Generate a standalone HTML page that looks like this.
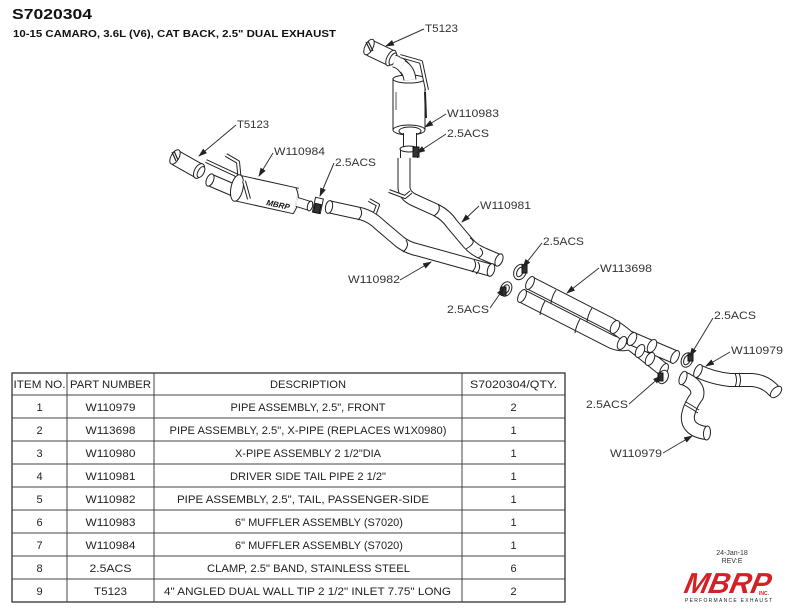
<!DOCTYPE html>
<html>
<head>
<meta charset="utf-8">
<style>
html,body{margin:0;padding:0;background:#fff;}
svg{display:block;}
.o{fill:none;stroke:#222;stroke-linecap:butt;stroke-linejoin:round;}
.i{fill:none;stroke:#fff;stroke-linecap:butt;stroke-linejoin:round;}
.e{fill:#fff;stroke:#222;stroke-width:1;}
.d{fill:#333;stroke:#111;stroke-width:1;}
.w{fill:none;stroke:#222;stroke-width:1;}
.lab{font-family:"Liberation Sans",sans-serif;font-size:11px;fill:#333;}
.ld{stroke:#333;stroke-width:1;fill:none;}
.tt{font-family:"Liberation Sans",sans-serif;font-size:11px;fill:#222;text-anchor:middle;}
.gl{stroke:#444;stroke-width:1;}
</style>
</head>
<body>
<svg width="792" height="612" viewBox="0 0 792 612" xmlns="http://www.w3.org/2000/svg">
<defs>
<marker id="ar" markerWidth="9" markerHeight="6" refX="8" refY="3" orient="auto" markerUnits="userSpaceOnUse">
<path d="M0,0 L9,3 L0,6 Z" fill="#222"/>
</marker>
</defs>

<!-- Header -->
<text x="12" y="19" font-family="Liberation Sans,sans-serif" font-weight="bold" font-size="15" fill="#111" textLength="80" lengthAdjust="spacingAndGlyphs">S7020304</text>
<text x="13" y="37" font-family="Liberation Sans,sans-serif" font-weight="bold" font-size="10" fill="#111" textLength="323" lengthAdjust="spacingAndGlyphs">10-15 CAMARO, 3.6L (V6), CAT BACK, 2.5" DUAL EXHAUST</text>

<!-- ===== Upper muffler assembly (W110983) ===== -->
<path class="o" stroke-width="13" d="M404 158 L404 188 Q405 196 414 200 L436 210 Q446 215 452 224 L468 243 Q474 250 484 254 L498 260"/>
<path class="i" stroke-width="11" d="M404 158 L404 188 Q405 196 414 200 L436 210 Q446 215 452 224 L468 243 Q474 250 484 254 L498 260"/>
<path class="w" d="M438 204 Q442 210 434 216"/>
<path class="w" d="M470 238 Q478 242 466 249"/>
<path class="w" d="M480 248 Q486 254 478 258"/>
<ellipse class="e" cx="499" cy="260" rx="3.5" ry="6.5" transform="rotate(23 499 260)"/>
<path class="o" stroke-width="4" d="M389 191 L405 197 L411 192"/>
<path class="i" stroke-width="2" d="M389 191 L405 197 L411 192"/>

<path class="o" stroke-width="17" d="M370 48 L391 58"/>
<path class="i" stroke-width="15" d="M370 48 L391 58"/>
<ellipse class="e" cx="369" cy="47" rx="4" ry="8.5" transform="rotate(27 369 47)"/>
<path d="M366 42 L371 52 M368 41 L373 51" stroke="#222" stroke-width="1.2"/>
<ellipse class="e" cx="391" cy="58" rx="4" ry="8.5" transform="rotate(27 391 58)"/>
<ellipse class="e" cx="393" cy="59" rx="3" ry="6.5" transform="rotate(27 393 59)"/>
<path class="o" stroke-width="13" d="M394 61 Q406 64 410 80"/>
<path class="i" stroke-width="11" d="M394 61 Q406 64 410 80"/>
<path class="o" stroke-width="33" d="M409 78 L409 130"/>
<path class="i" stroke-width="31" d="M409 78 L409 130"/>
<ellipse class="e" cx="409" cy="79" rx="16" ry="4"/>
<path class="o" stroke-width="13" d="M402 66 Q409 70 410 80"/>
<path class="i" stroke-width="11" d="M402 66 Q409 70 410 80"/>
<ellipse class="e" cx="409" cy="130" rx="16" ry="5"/>
<ellipse class="e" cx="410" cy="131" rx="11" ry="4"/>
<path d="M425 92 L426 118" stroke="#222" stroke-width="2"/>
<path d="M396 92 L396 110" stroke="#555" stroke-width="1"/>
<path class="o" stroke-width="4" d="M400 56 L421 62 L427 90"/>
<path class="i" stroke-width="2" d="M400 56 L421 62 L427 90"/>
<path class="o" stroke-width="14" d="M410 133 L410 150"/>
<path class="i" stroke-width="12" d="M410 133 L410 150"/>
<path class="o" stroke-width="18" d="M409 149 L409 158"/>
<path class="i" stroke-width="16" d="M409 149 L409 158"/>
<ellipse class="e" cx="409" cy="149" rx="9" ry="3"/>
<rect x="413" y="147" width="6" height="10" class="d"/>

<!-- ===== Left muffler assembly (W110984) ===== -->
<path class="o" stroke-width="16" d="M176 158 L199 171"/>
<path class="i" stroke-width="14" d="M176 158 L199 171"/>
<ellipse class="e" cx="175" cy="157" rx="4" ry="8" transform="rotate(29 175 157)"/>
<path d="M172 152 L176 161 M174 151 L178 160" stroke="#222" stroke-width="1.2"/>
<ellipse class="e" cx="199" cy="171" rx="4.5" ry="8" transform="rotate(29 199 171)"/>
<ellipse class="e" cx="201" cy="172" rx="3" ry="6" transform="rotate(29 201 172)"/>
<path class="o" stroke-width="13" d="M210 180 L238 192"/>
<path class="i" stroke-width="11" d="M210 180 L238 192"/>
<ellipse class="e" cx="210" cy="180" rx="3.5" ry="6.5" transform="rotate(23 210 180)"/>
<path class="o" stroke-width="4" d="M206 161 L236 175 L243 196"/>
<path class="i" stroke-width="2" d="M206 161 L236 175 L243 196"/>
<path class="o" stroke-width="4" d="M226 155 L238 162 L240 182"/>
<path class="i" stroke-width="2" d="M226 155 L238 162 L240 182"/>
<path class="o" stroke-width="27" d="M237 188 L296 201"/>
<path class="i" stroke-width="25" d="M237 188 L296 201"/>
<ellipse class="e" cx="237" cy="188" rx="6" ry="13.5" transform="rotate(12 237 188)"/>
<path d="M296 188 Q302 201 293 214" class="w"/>
<text x="266" y="205" font-family="Liberation Sans,sans-serif" font-weight="bold" font-style="italic" font-size="8" fill="#111" transform="rotate(12 266 205)">MBRP</text>
<path class="o" stroke-width="4" d="M244 181 L249 199"/>
<path class="i" stroke-width="2" d="M244 181 L249 199"/>
<path class="o" stroke-width="10" d="M297 202 L310 206"/>
<path class="i" stroke-width="8" d="M297 202 L310 206"/>
<ellipse class="e" cx="310" cy="206" rx="2.5" ry="5" transform="rotate(15 310 206)"/>
<rect x="314" y="198" width="8" height="15" class="e" transform="rotate(12 318 205)"/>
<rect x="315" y="204" width="6" height="9" class="d" transform="rotate(12 318 205)"/>

<!-- passenger tail pipe W110982 -->
<path class="o" stroke-width="13" d="M330 207 L362 214 Q372 217 380 225 L400 242 Q408 248 418 250 L490 270"/>
<path class="i" stroke-width="11" d="M330 207 L362 214 Q372 217 380 225 L400 242 Q408 248 418 250 L490 270"/>
<ellipse class="e" cx="329" cy="207" rx="3.5" ry="6.5" transform="rotate(12 329 207)"/>
<path class="w" d="M360 208 Q364 214 358 220"/>
<path class="w" d="M406 240 Q410 246 403 252"/>
<path class="w" d="M474 260 Q478 266 472 272"/>
<path class="w" d="M478 262 Q482 268 476 274"/>
<ellipse class="e" cx="491" cy="270" rx="3.5" ry="6.5" transform="rotate(16 491 270)"/>
<path class="o" stroke-width="4" d="M369 200 L378 205 L375 213"/>
<path class="i" stroke-width="2" d="M369 200 L378 205 L375 213"/>

<!-- clamps near X-pipe -->
<ellipse class="e" cx="520" cy="272" rx="6" ry="8" transform="rotate(25 520 272)"/>
<ellipse class="e" cx="520" cy="272" rx="3" ry="5" transform="rotate(25 520 272)"/>
<rect x="522" y="265" width="5" height="8" class="d"/>
<ellipse class="e" cx="506" cy="289" rx="5.5" ry="7.5" transform="rotate(25 506 289)"/>
<ellipse class="e" cx="506" cy="289" rx="3" ry="4.5" transform="rotate(25 506 289)"/>
<rect x="501" y="287" width="5" height="8" class="d"/>

<!-- X-pipe W113698 -->
<path class="o" stroke-width="14" d="M522 296 L612 342 Q622 346 630 343 L664 370"/>
<path class="i" stroke-width="12" d="M522 296 L612 342 Q622 346 630 343 L664 370"/>
<path class="o" stroke-width="14" d="M530 283 L610 324 Q620 330 628 337 L675 357"/>
<path class="i" stroke-width="12" d="M530 283 L610 324 Q620 330 628 337 L675 357"/>
<ellipse class="e" cx="530" cy="283" rx="3.5" ry="7" transform="rotate(27 530 283)"/>
<ellipse class="e" cx="522" cy="296" rx="3.5" ry="7" transform="rotate(27 522 296)"/>
<path class="w" d="M556 290 Q552 296 551 303"/>
<path class="w" d="M592 308 Q588 314 587 322"/>
<path class="w" d="M545 301 Q541 308 540 315"/>
<path class="w" d="M580 319 Q576 326 575 333"/>
<ellipse class="e" cx="615" cy="327" rx="4" ry="7" transform="rotate(27 615 327)"/>
<ellipse class="e" cx="622" cy="343" rx="4" ry="7" transform="rotate(27 622 343)"/>
<ellipse class="e" cx="632" cy="339" rx="4" ry="7" transform="rotate(27 632 339)"/>
<ellipse class="e" cx="640" cy="351" rx="4" ry="7" transform="rotate(27 640 351)"/>
<ellipse class="e" cx="652" cy="346" rx="4" ry="7" transform="rotate(27 652 346)"/>
<ellipse class="e" cx="650" cy="359" rx="4" ry="7" transform="rotate(27 650 359)"/>
<ellipse class="e" cx="675" cy="357" rx="3.5" ry="7" transform="rotate(27 675 357)"/>
<ellipse class="e" cx="664" cy="370" rx="3.5" ry="7" transform="rotate(27 664 370)"/>
<ellipse class="e" cx="687" cy="360" rx="5.5" ry="7.5" transform="rotate(25 687 360)"/>
<ellipse class="e" cx="687" cy="360" rx="3" ry="5" transform="rotate(25 687 360)"/>
<rect x="688" y="354" width="5" height="7" class="d"/>
<ellipse class="e" cx="663" cy="377" rx="5" ry="7" transform="rotate(25 663 377)"/>
<rect x="658" y="373" width="5" height="8" class="d"/>

<!-- front pipes W110979 -->
<path class="o" stroke-width="14" d="M698 371 Q712 378 730 380 L752 380 Q766 381 775 392"/>
<path class="i" stroke-width="12" d="M698 371 Q712 378 730 380 L752 380 Q766 381 775 392"/>
<ellipse class="e" cx="698" cy="371" rx="3.5" ry="7" transform="rotate(25 698 371)"/>
<ellipse class="e" cx="776" cy="392" rx="4" ry="7" transform="rotate(45 776 392)"/>
<path class="w" d="M735 373 Q738 380 735 387"/>
<path class="w" d="M739 373 Q742 380 739 387"/>
<path class="o" stroke-width="14" d="M683 378 Q700 385 697 396 Q690 405 688 415 Q686 430 706 433"/>
<path class="i" stroke-width="12" d="M683 378 Q700 385 697 396 Q690 405 688 415 Q686 430 706 433"/>
<ellipse class="e" cx="683" cy="378" rx="3.5" ry="7" transform="rotate(20 683 378)"/>
<ellipse class="e" cx="707" cy="433" rx="3.5" ry="7" transform="rotate(5 707 433)"/>
<path class="w" d="M686 402 Q693 406 699 410"/>
<path class="w" d="M685 405 Q692 409 698 413"/>

<!-- ===== Labels & leaders ===== -->
<g>
<line class="ld" x1="424" y1="29" x2="386" y2="46" marker-end="url(#ar)"/>
<text class="lab" x="425" y="32" textLength="33" lengthAdjust="spacingAndGlyphs">T5123</text>
<line class="ld" x1="446" y1="114" x2="425" y2="127" marker-end="url(#ar)"/>
<text class="lab" x="447" y="117" textLength="52" lengthAdjust="spacingAndGlyphs">W110983</text>
<line class="ld" x1="446" y1="134" x2="417" y2="153" marker-end="url(#ar)"/>
<text class="lab" x="447" y="137" textLength="42" lengthAdjust="spacingAndGlyphs">2.5ACS</text>
<line class="ld" x1="479" y1="206" x2="462" y2="222" marker-end="url(#ar)"/>
<text class="lab" x="480" y="209" textLength="51" lengthAdjust="spacingAndGlyphs">W110981</text>
<line class="ld" x1="400" y1="280" x2="431" y2="262" marker-end="url(#ar)"/>
<text class="lab" x="348" y="283" textLength="52" lengthAdjust="spacingAndGlyphs">W110982</text>
<line class="ld" x1="490" y1="308" x2="504" y2="288" marker-end="url(#ar)"/>
<text class="lab" x="447" y="313" textLength="42" lengthAdjust="spacingAndGlyphs">2.5ACS</text>
<line class="ld" x1="542" y1="243" x2="523" y2="267" marker-end="url(#ar)"/>
<text class="lab" x="543" y="245" textLength="41" lengthAdjust="spacingAndGlyphs">2.5ACS</text>
<line class="ld" x1="599" y1="268" x2="567" y2="293" marker-end="url(#ar)"/>
<text class="lab" x="600" y="272" textLength="52" lengthAdjust="spacingAndGlyphs">W113698</text>
<line class="ld" x1="713" y1="318" x2="690" y2="356" marker-end="url(#ar)"/>
<text class="lab" x="714" y="319" textLength="42" lengthAdjust="spacingAndGlyphs">2.5ACS</text>
<line class="ld" x1="730" y1="352" x2="706" y2="366" marker-end="url(#ar)"/>
<text class="lab" x="731" y="354" textLength="52" lengthAdjust="spacingAndGlyphs">W110979</text>
<line class="ld" x1="629" y1="404" x2="661" y2="376" marker-end="url(#ar)"/>
<text class="lab" x="586" y="408" textLength="42" lengthAdjust="spacingAndGlyphs">2.5ACS</text>
<line class="ld" x1="663" y1="453" x2="692" y2="436" marker-end="url(#ar)"/>
<text class="lab" x="610" y="457" textLength="52" lengthAdjust="spacingAndGlyphs">W110979</text>
<line class="ld" x1="236" y1="125" x2="199" y2="156" marker-end="url(#ar)"/>
<text class="lab" x="237" y="128" textLength="32" lengthAdjust="spacingAndGlyphs">T5123</text>
<line class="ld" x1="273" y1="153" x2="259" y2="176" marker-end="url(#ar)"/>
<text class="lab" x="274" y="155" textLength="51" lengthAdjust="spacingAndGlyphs">W110984</text>
<line class="ld" x1="334" y1="163" x2="320" y2="196" marker-end="url(#ar)"/>
<text class="lab" x="335" y="166" textLength="41" lengthAdjust="spacingAndGlyphs">2.5ACS</text>
</g>

<!-- ===== Table ===== -->
<g>
<rect x="12" y="373" width="553" height="229" fill="none" stroke="#333" stroke-width="1.3"/>
<line class="gl" x1="67" y1="373" x2="67" y2="602"/>
<line class="gl" x1="154" y1="373" x2="154" y2="602"/>
<line class="gl" x1="462" y1="373" x2="462" y2="602"/>
<line class="gl" x1="12" y1="395" x2="565" y2="395"/>
<line class="gl" x1="12" y1="418" x2="565" y2="418"/>
<line class="gl" x1="12" y1="441" x2="565" y2="441"/>
<line class="gl" x1="12" y1="464" x2="565" y2="464"/>
<line class="gl" x1="12" y1="487" x2="565" y2="487"/>
<line class="gl" x1="12" y1="510" x2="565" y2="510"/>
<line class="gl" x1="12" y1="533" x2="565" y2="533"/>
<line class="gl" x1="12" y1="556" x2="565" y2="556"/>
<line class="gl" x1="12" y1="579" x2="565" y2="579"/>

<text class="tt" x="39.5" y="388" textLength="52" lengthAdjust="spacingAndGlyphs">ITEM NO.</text>
<text class="tt" x="110.5" y="388" textLength="81" lengthAdjust="spacingAndGlyphs">PART NUMBER</text>
<text class="tt" x="308" y="388" textLength="76" lengthAdjust="spacingAndGlyphs">DESCRIPTION</text>
<text class="tt" x="513.5" y="388" textLength="87" lengthAdjust="spacingAndGlyphs">S7020304/QTY.</text>

<text class="tt" x="39.5" y="411">1</text>
<text class="tt" x="110.5" y="411" textLength="50" lengthAdjust="spacingAndGlyphs">W110979</text>
<text class="tt" x="308" y="411" textLength="155" lengthAdjust="spacingAndGlyphs">PIPE ASSEMBLY, 2.5", FRONT</text>
<text class="tt" x="513.5" y="411">2</text>

<text class="tt" x="39.5" y="434">2</text>
<text class="tt" x="110.5" y="434" textLength="50" lengthAdjust="spacingAndGlyphs">W113698</text>
<text class="tt" x="308" y="434" textLength="277" lengthAdjust="spacingAndGlyphs">PIPE ASSEMBLY, 2.5", X-PIPE (REPLACES W1X0980)</text>
<text class="tt" x="513.5" y="434">1</text>

<text class="tt" x="39.5" y="457">3</text>
<text class="tt" x="110.5" y="457" textLength="50" lengthAdjust="spacingAndGlyphs">W110980</text>
<text class="tt" x="308" y="457" textLength="146" lengthAdjust="spacingAndGlyphs">X-PIPE ASSEMBLY 2 1/2"DIA</text>
<text class="tt" x="513.5" y="457">1</text>

<text class="tt" x="39.5" y="480">4</text>
<text class="tt" x="110.5" y="480" textLength="50" lengthAdjust="spacingAndGlyphs">W110981</text>
<text class="tt" x="308" y="480" textLength="156" lengthAdjust="spacingAndGlyphs">DRIVER SIDE TAIL PIPE 2 1/2"</text>
<text class="tt" x="513.5" y="480">1</text>

<text class="tt" x="39.5" y="503">5</text>
<text class="tt" x="110.5" y="503" textLength="50" lengthAdjust="spacingAndGlyphs">W110982</text>
<text class="tt" x="303" y="503" textLength="252" lengthAdjust="spacingAndGlyphs">PIPE ASSEMBLY, 2.5", TAIL, PASSENGER-SIDE</text>
<text class="tt" x="513.5" y="503">1</text>

<text class="tt" x="39.5" y="526">6</text>
<text class="tt" x="110.5" y="526" textLength="50" lengthAdjust="spacingAndGlyphs">W110983</text>
<text class="tt" x="319" y="526" font-size="10">6" MUFFLER ASSEMBLY (S7020)</text>
<text class="tt" x="513.5" y="526">1</text>

<text class="tt" x="39.5" y="549">7</text>
<text class="tt" x="110.5" y="549" textLength="50" lengthAdjust="spacingAndGlyphs">W110984</text>
<text class="tt" x="319" y="549" font-size="10">6" MUFFLER ASSEMBLY (S7020)</text>
<text class="tt" x="513.5" y="549">1</text>

<text class="tt" x="39.5" y="572">8</text>
<text class="tt" x="110.5" y="572" textLength="42" lengthAdjust="spacingAndGlyphs">2.5ACS</text>
<text class="tt" x="308.5" y="572" textLength="203" lengthAdjust="spacingAndGlyphs">CLAMP, 2.5" BAND,  STAINLESS STEEL</text>
<text class="tt" x="513.5" y="572">6</text>

<text class="tt" x="39.5" y="595">9</text>
<text class="tt" x="110.5" y="595" textLength="33" lengthAdjust="spacingAndGlyphs">T5123</text>
<text class="tt" x="307.5" y="595" textLength="287" lengthAdjust="spacingAndGlyphs">4" ANGLED DUAL WALL TIP 2 1/2" INLET 7.75" LONG</text>
<text class="tt" x="513.5" y="595">2</text>
</g>

<!-- ===== Rev block & logo ===== -->
<text x="732" y="555" font-family="Liberation Sans,sans-serif" font-size="7" fill="#333" text-anchor="middle">24-Jan-18</text>
<text x="732" y="563" font-family="Liberation Sans,sans-serif" font-size="7" fill="#333" text-anchor="middle">REV:E</text>
<text x="684" y="593" font-family="Liberation Sans,sans-serif" font-weight="bold" font-style="italic" font-size="29" fill="#d42027" textLength="86" lengthAdjust="spacingAndGlyphs" transform="skewX(-12) translate(125 0)">MBRP</text>
<text x="759" y="595" font-family="Liberation Sans,sans-serif" font-weight="bold" font-size="5" fill="#d42027">INC.</text>
<text x="685" y="602" font-family="Liberation Sans,sans-serif" font-size="5" fill="#222" textLength="87" lengthAdjust="spacing">PERFORMANCE EXHAUST</text>
</svg>
</body>
</html>
